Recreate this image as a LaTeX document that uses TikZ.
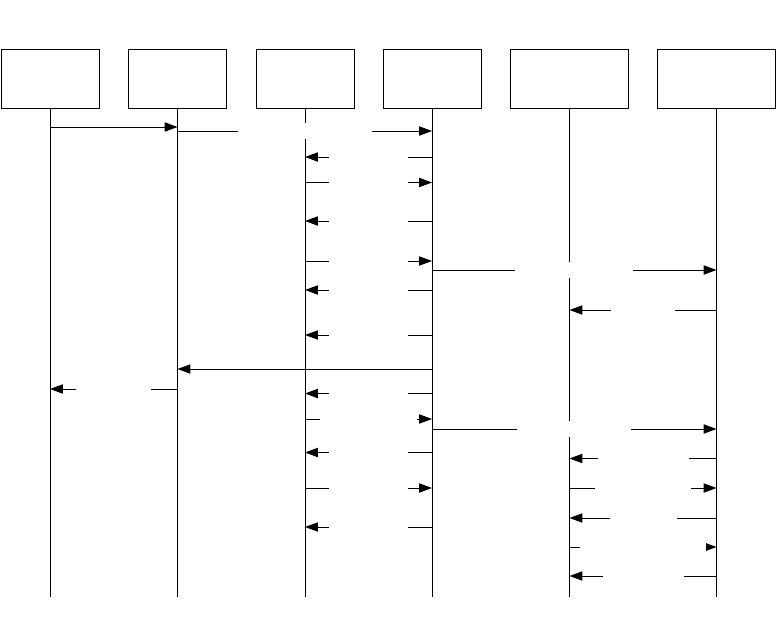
\documentclass[tikz,border=0pt]{standalone}
\usepackage{tikz}
\usetikzlibrary{arrows.meta}

\begin{document}
\begin{tikzpicture}[x=0.25mm, y=-0.25mm, line width=0.7pt,
  actor/.style={draw, minimum width=24.5mm, minimum height=14.75mm, inner sep=0pt},
  msg/.style={-{Triangle[length=3.2mm, width=2.3mm]}},
  gap/.style={fill=white, inner sep=0pt, minimum height=4.1mm, minimum width=#1}]
  \useasboundingbox (0,0) rectangle (776,628);
  % participants
  \node[actor] (p1) at (50,78.5) {};
  \node[actor] (p2) at (177.5,78.5) {};
  \node[actor] (p3) at (305,78.5) {};
  \node[actor] (p4) at (432,78.5) {};
  \node[actor, minimum width=29.5mm] (p5) at (569.5,78.5) {};
  \node[actor, minimum width=29.5mm] (p6) at (716.5,78.5) {};
  % lifelines
  \foreach \i in {1,...,6} {
    \coordinate (e\i) at (p\i |- 0,597);
    \draw (p\i) -- (e\i);
  }
  % messages
  \draw[msg] (p1 |- 0,127) -- (p2 |- 0,127);
  \draw[msg] (p2 |- 0,131) -- node[gap=33.5mm] (g1) {} (p4 |- 0,131);
  \draw[msg] (p4 |- 0,157) -- node[gap=19.75mm] (g2) {} (p3 |- 0,157);
  \draw[msg] (p3 |- 0,182.5) -- node[gap=19.75mm] (g3) {} (p4 |- 0,182.5);
  \draw[msg] (p4 |- 0,221) -- node[gap=19.75mm] (g4) {} (p3 |- 0,221);
  \draw[msg] (p3 |- 0,261) -- node[gap=19.75mm] (g5) {} (p4 |- 0,261);
  \draw[msg] (p4 |- 0,270) -- node[gap=29.5mm] (g6) {} (p6 |- 0,270);
  \draw[msg] (p4 |- 0,290) -- node[gap=19.75mm] (g7) {} (p3 |- 0,290);
  \draw[msg] (p6 |- 0,310) -- node[gap=16mm] (g8) {} (p5 |- 0,310);
  \draw[msg] (p4 |- 0,335) -- node[gap=19.75mm] (g9) {} (p3 |- 0,335);
  \draw[msg] (p4 |- 0,369) -- (p2 |- 0,369);
  \draw[msg] (p2 |- 0,389) -- node[gap=18.75mm] (g10) {} (p1 |- 0,389);
  \draw[msg] (p4 |- 0,393.5) -- node[gap=19.75mm] (g11) {} (p3 |- 0,393.5);
  \draw[msg] (p3 |- 0,419) -- node[gap=24.25mm] (g12) {} (p4 |- 0,419);
  \draw[msg] (p4 |- 0,429) -- node[gap=28.5mm] (g13) {} (p6 |- 0,429);
  \draw[msg] (p4 |- 0,452.5) -- node[gap=19.75mm] (g14) {} (p3 |- 0,452.5);
  \draw[msg] (p6 |- 0,458.5) -- node[gap=22.75mm] (g15) {} (p5 |- 0,458.5);
  \draw[msg] (p3 |- 0,488) -- node[gap=19.75mm] (g16) {} (p4 |- 0,488);
  \draw[msg] (p5 |- 0,488) -- node[gap=24mm] (g17) {} (p6 |- 0,488);
  \draw[msg] (p6 |- 0,518) -- node[gap=16.75mm] (g18) {} (p5 |- 0,518);
  \draw[msg] (p4 |- 0,527) -- node[gap=19.75mm] (g19) {} (p3 |- 0,527);
  \draw[msg] (p5 |- 0,547) -- node[gap=31.5mm] (g20) {} (p6 |- 0,547);
  \draw[msg] (p6 |- 0,576) -- node[gap=20.25mm] (g21) {} (p5 |- 0,576);
\end{tikzpicture}
\end{document}
